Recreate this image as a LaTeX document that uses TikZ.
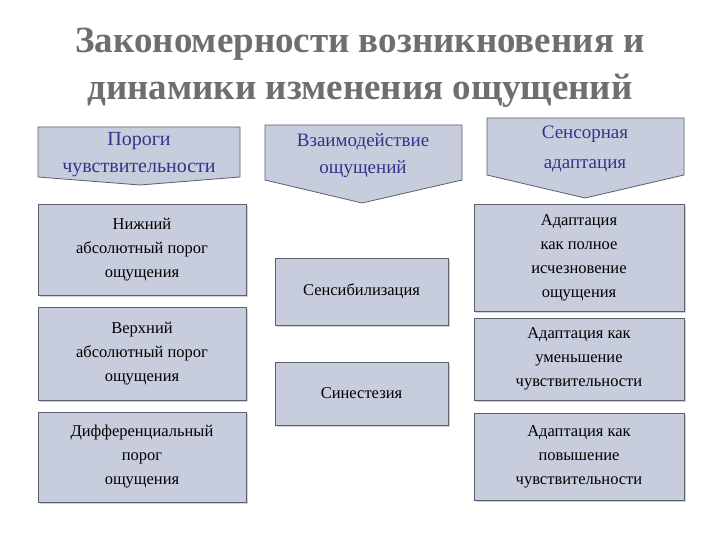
\documentclass[tikz,border=0pt]{standalone}
\usepackage{fontspec}
\setmainfont{Liberation Serif}
\definecolor{boxfill}{HTML}{C8CDDD}
\definecolor{boxline}{HTML}{5A5F6E}
\definecolor{headtext}{HTML}{33338A}
\definecolor{titlegray}{HTML}{6E6E6E}
\usetikzlibrary{shadows}
\tikzset{
  cell/.style={draw=boxline, fill=boxfill, line width=0.8pt, align=center,
    inner sep=0pt, font=\fontsize{16.5}{24}\selectfont, drop shadow={opacity=0.35,shadow xshift=2pt,shadow yshift=-2pt}},
  head/.style={draw=boxline, fill=boxfill, line width=0.8pt},
  headlabel/.style={align=center, text=headtext, font=\fontsize{20}{27}\selectfont}
}
\begin{document}
\begin{tikzpicture}[x=1pt,y=-1pt]
    \useasboundingbox[fill=white] (0,0) rectangle (720,540);
    % Title
    \node[titlegray, font=\fontsize{37}{47}\selectfont\bfseries, align=center] (title) at (360,68)
        {Закономерности возникновения и\\динамики изменения ощущений};

    % Headers
    \draw[head] (38,127) -- (240,127) -- (240,177) -- (140,185) -- (38,177) -- cycle;
    \node[headlabel] (hthr) at (139,155) {Пороги\\чувствительности};
    \draw[head] (265,125) -- (462,125) -- (462,180) -- (362,203) -- (265,180) -- cycle;
    \node[headlabel, font=\fontsize{19}{27}\selectfont] (hint) at (363,156) {Взаимодействие\\ощущений};
    \draw[head] (487,118) -- (684,118) -- (684,175) -- (585,198) -- (487,175) -- cycle;
    \node[headlabel, font=\fontsize{19}{30}\selectfont] (hadp) at (585,149) {Сенсорная\\адаптация};

    % Left column
    \node[cell, minimum width=208pt, minimum height=91pt] (low) at (142,249.5)
        {Нижний\\абсолютный порог\\ощущения};
    \node[cell, minimum width=208pt, minimum height=93pt] (up) at (142,353.5)
        {Верхний\\абсолютный порог\\ощущения};
    \node[cell, minimum width=208pt, minimum height=90pt] (diff) at (142,457)
        {Дифференциальный\\порог\\ощущения};

    % Middle column
    \node[cell, minimum width=173pt, minimum height=67pt] (sens) at (361.5,291.5)
        {Сенсибилизация};
    \node[cell, minimum width=173pt, minimum height=63pt] (syn) at (361.5,393.5)
        {Синестезия};

    % Right column
    \node[cell, minimum width=210pt, minimum height=107pt] (full) at (579,257.5)
        {Адаптация\\как полное\\исчезновение\\ощущения};
    \node[cell, minimum width=210pt, minimum height=82pt] (dec) at (579,359)
        {Адаптация как\\уменьшение\\чувствительности};
    \node[cell, minimum width=210pt, minimum height=87pt] (inc) at (579,456.5)
        {Адаптация как\\повышение\\чувствительности};
\end{tikzpicture}
\end{document}
